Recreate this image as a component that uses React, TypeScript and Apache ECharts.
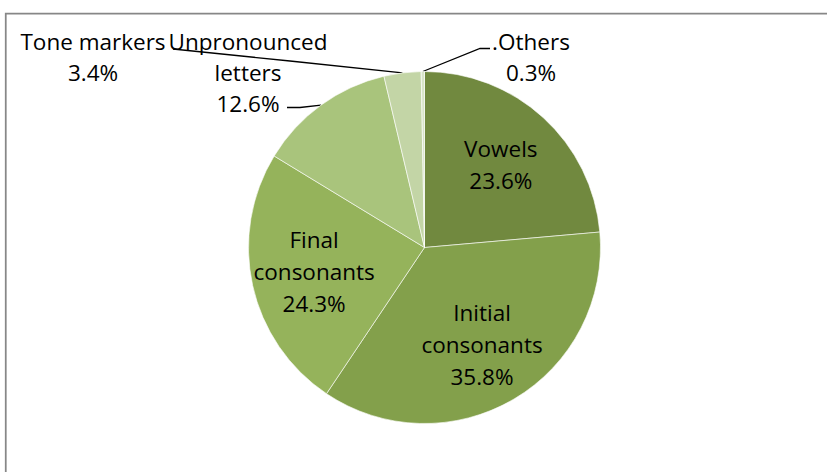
import React, { useEffect, useRef } from "react";
import * as echarts from "echarts";

const categories = [
  "Vowels",
  "Initial consonants",
  "Final consonants",
  "Unpronounced letters",
  "Tone markers",
  "Others",
];
const labelTexts = [
  "Vowels",
  "Initial\nconsonants",
  "Final\nconsonants",
  "Unpronounced\nletters",
  "Tone markers",
  ".Others",
];
const shares = [23.6, 35.8, 24.3, 12.6, 3.4, 0.3];
const sliceColors = ["#71893F", "#83A04B", "#95B35B", "#A9C47C", "#C3D5A6", "#D8E4C8"];
const insideLabelled = [true, true, true, false, false, false];

const FONT = "'Open Sans', 'Noto Sans', sans-serif";

// placement of the outside labels (layout only)
const outsideLayout: Record<number, { x: number; y: number; bend: number[]; end: number[] }> = {
  3: { x: 248, y: 72, bend: [300, 107.5], end: [287, 107.5] },
  4: { x: 93, y: 57, bend: [290, 61], end: [173, 49] },
  5: { x: 531, y: 57, bend: [480, 48.5], end: [490, 48.5] },
};

const labelText = (i: number) => `${labelTexts[i]}\n${shares[i].toFixed(1)}%`;

export default function App() {
  const ref = useRef<HTMLDivElement>(null);
  useEffect(() => {
    if (!ref.current) return;
    const chart = echarts.init(ref.current, undefined, { renderer: "svg" });
    const center = [424.5, 247.5];
    const R = 176;
    chart.setOption({
      animation: false,
      backgroundColor: "#ffffff",
      graphic: [
        {
          type: "rect",
          shape: { x: 5.75, y: 13.6, width: 900, height: 600 },
          style: { fill: "none", stroke: "#878787", lineWidth: 1.75 },
          silent: true,
        },
      ],
      series: [
        {
          type: "pie",
          center,
          radius: [0, R],
          startAngle: 90,
          clockwise: true,
          avoidLabelOverlap: false,
          itemStyle: { borderColor: "#ffffff", borderWidth: 0.6 },
          label: {
            show: true,
            position: "outside",
            fontFamily: FONT,
            fontSize: 22.5,
            lineHeight: 31,
            color: "#000",
            align: "center",
            formatter: (p: any) => labelText(p.dataIndex),
          },
          labelLine: {
            show: true,
            length: 10,
            length2: 10,
            lineStyle: { color: "#000", width: 1.3 },
          },
          labelLayout: (p: any) => {
            const o = outsideLayout[p.dataIndex];
            if (!o) return {};
            const pts = p.labelLinePoints;
            const start = pts && pts[0] ? pts[0] : o.bend;
            return {
              x: o.x,
              y: o.y,
              align: "center",
              verticalAlign: "middle",
              labelLinePoints: [start, o.bend, o.end],
            };
          },
          data: categories.map((name, i) => ({
            name,
            value: shares[i],
            itemStyle: { color: sliceColors[i] },
            label: { show: !insideLabelled[i] },
            labelLine: { show: !insideLabelled[i] },
          })),
        },
        {
          type: "pie",
          center,
          radius: [44, R],
          startAngle: 90,
          clockwise: true,
          silent: true,
          avoidLabelOverlap: false,
          itemStyle: { color: "rgba(0,0,0,0)", borderWidth: 0 },
          label: {
            show: true,
            position: "inside",
            fontFamily: FONT,
            fontSize: 22.5,
            lineHeight: 32,
            color: "#000",
            align: "center",
            formatter: (p: any) => labelText(p.dataIndex),
          },
          labelLine: { show: false },
          data: categories.map((name, i) => ({
            name,
            value: shares[i],
            label: { show: insideLabelled[i] },
          })),
        },
      ],
    });
    return () => chart.dispose();
  }, []);
  return (
    <div
      ref={ref}
      style={{ position: "fixed", left: 0, top: 0, width: 827, height: 472 }}
    />
  );
}
